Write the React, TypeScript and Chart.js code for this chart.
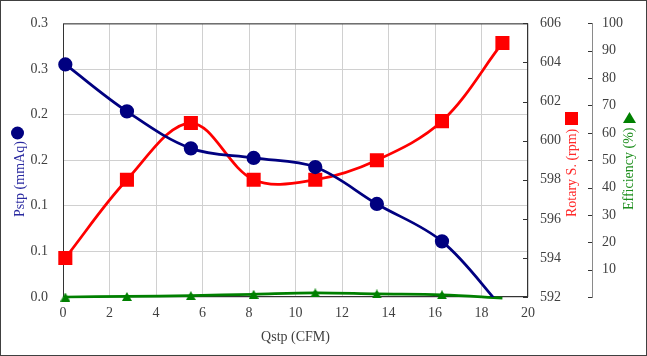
import { useEffect, useRef } from "react";
import { Chart, registerables } from "chart.js";

Chart.register(...registerables);

// ---- data ----
const qstp = [0.1, 2.75, 5.5, 8.2, 10.85, 13.5, 16.3, 18.9];
const pstp = [0.255, 0.2035, 0.163, 0.1525, 0.1425, 0.102, 0.061, -0.012];
const rotarySpeed = [594, 598, 600.9, 598, 598, 599, 601, 605];
const efficiency = [0, 0.2, 0.5, 1.0, 1.5, 1.1, 0.8, -0.4];
const pstpTickLabels = ["0.0", "0.1", "0.1", "0.2", "0.2", "0.3", "0.3"];
const pstpMarkerShown = [1, 1, 1, 1, 1, 1, 1, 0];
const effMarkerShown = [1, 1, 1, 1, 1, 1, 1, 0];

const FONT = '"Liberation Serif", "Times New Roman", serif';
const TICK_COLOR = "#404040";
const GRID_COLOR = "#d0d0d0";
const BLUE = "#000080";
const RED = "#ff0000";
const GREEN = "#008000";

function makeTriangle(w: number, h: number, color: string) {
  const c = document.createElement("canvas");
  c.width = w;
  c.height = h;
  const g = c.getContext("2d")!;
  g.fillStyle = color;
  g.beginPath();
  g.moveTo(0, h);
  g.lineTo(w / 2, 0);
  g.lineTo(w, h);
  g.closePath();
  g.fill();
  return c;
}

const decor = {
  id: "decor",
  beforeDatasetsDraw(chart: any) {
    const { ctx, chartArea: a, scales } = chart;
    ctx.save();
    // plot border
    ctx.strokeStyle = "#333333";
    ctx.lineWidth = 1;
    ctx.strokeRect(a.left + 0.5, a.top + 0.5, a.right - a.left - 1, a.bottom - a.top - 1);
    // rpm ticks (inward)
    const y1 = scales.y1;
    ctx.beginPath();
    y1.ticks.forEach((t: any) => {
      const py = Math.round(y1.getPixelForValue(t.value)) + 0.5;
      ctx.moveTo(a.right - 5, py);
      ctx.lineTo(a.right, py);
    });
    ctx.stroke();
    // efficiency ticks (to the left of its axis line)
    const y2 = scales.y2;
    const lx = Math.round(y2.left);
    ctx.strokeStyle = "#333333";
    ctx.beginPath();
    y2.ticks.forEach((t: any) => {
      const py = Math.round(y2.getPixelForValue(t.value)) + 0.5;
      ctx.moveTo(lx - 4, py);
      ctx.lineTo(lx, py);
    });
    ctx.stroke();
    ctx.restore();
  },
  afterDraw(chart: any) {
    const { ctx, width, height } = chart;
    ctx.save();
    // outer frame
    ctx.strokeStyle = "#404040";
    ctx.lineWidth = 1;
    ctx.strokeRect(0.5, 0.5, width - 1, height - 1);

    const vTitle = (text: string, cx: number, startY: number, color: string) => {
      ctx.save();
      ctx.translate(cx, startY);
      ctx.rotate(-Math.PI / 2);
      ctx.font = `14px ${FONT}`;
      ctx.fillStyle = color;
      ctx.textAlign = "left";
      ctx.textBaseline = "middle";
      ctx.fillText(text, 0, 0);
      ctx.restore();
    };
    vTitle("Pstp (mmAq)", 20, 217, "#2a2aa0");
    vTitle("Rotary S. (rpm)", 572, 217, "#ff2a2a");
    vTitle("Efficiency (%)", 629, 210, "#1f8f1f");

    // markers beside titles
    ctx.fillStyle = BLUE;
    ctx.beginPath();
    ctx.arc(17.5, 133, 6.5, 0, Math.PI * 2);
    ctx.fill();
    ctx.fillStyle = RED;
    ctx.fillRect(565, 112, 13, 13);
    ctx.fillStyle = GREEN;
    ctx.beginPath();
    ctx.moveTo(623, 123);
    ctx.lineTo(629.5, 112);
    ctx.lineTo(636, 123);
    ctx.closePath();
    ctx.fill();
    ctx.restore();
  },
};

export default function App() {
  const ref = useRef<HTMLCanvasElement | null>(null);

  useEffect(() => {
    document.body.style.margin = "0";
    const canvas = ref.current;
    if (!canvas) return;
    const tri = makeTriangle(10, 9, GREEN);
    const tickFont = { family: FONT, size: 14 };

    const chart = new Chart(canvas, {
      type: "line",
      data: {
        datasets: [
          {
            label: "Pstp",
            data: qstp.map((q, i) => ({ x: q, y: pstp[i] })),
            yAxisID: "y",
            borderColor: BLUE,
            backgroundColor: BLUE,
            borderWidth: 2.75,
            pointStyle: "circle",
            pointRadius: pstpMarkerShown.map((s) => (s ? 5.75 : 0)),
            tension: 0.35,
            fill: false,
            clip: { left: false, right: false, top: false, bottom: 0 } as any,
            order: 1,
          },
          {
            label: "Rotary S.",
            data: qstp.map((q, i) => ({ x: q, y: rotarySpeed[i] })),
            yAxisID: "y1",
            borderColor: RED,
            backgroundColor: RED,
            borderWidth: 2.75,
            pointStyle: "rect",
            pointRadius: 8,
            tension: 0.35,
            fill: false,
            clip: false as any,
            order: 2,
          },
          {
            label: "Efficiency",
            data: qstp.map((q, i) => ({ x: q, y: efficiency[i] })),
            yAxisID: "y2",
            borderColor: GREEN,
            backgroundColor: GREEN,
            borderWidth: 2.75,
            pointStyle: tri as any,
            pointRadius: effMarkerShown.map((s) => (s ? 5 : 0)),
            tension: 0.35,
            fill: false,
            clip: false as any,
            order: 3,
          },
        ],
      },
      options: {
        animation: false,
        responsive: false,
        maintainAspectRatio: false,
        layout: { padding: { top: 18, left: 0, right: 0, bottom: 0 } },
        plugins: {
          legend: { display: false },
          tooltip: { enabled: false },
        },
        scales: {
          x: {
            type: "linear",
            position: "bottom",
            min: 0,
            max: 20,
            ticks: { stepSize: 2, font: tickFont, color: TICK_COLOR, padding: 8, maxRotation: 0 },
            grid: { color: GRID_COLOR, drawTicks: false },
            border: { display: false },
            title: {
              display: true,
              text: "Qstp (CFM)",
              font: tickFont,
              color: TICK_COLOR,
              padding: { top: 0, bottom: 10 },
            },
            afterFit: (s: any) => {
              s.height = 59;
            },
          },
          y: {
            type: "linear",
            position: "left",
            min: 0,
            max: 0.3,
            ticks: {
              stepSize: 0.05,
              font: tickFont,
              color: TICK_COLOR,
              padding: 15,
              callback: (_v: any, i: number) => pstpTickLabels[i],
            },
            grid: { color: GRID_COLOR, drawTicks: false },
            border: { display: false },
            afterFit: (s: any) => {
              s.width = 63;
            },
          },
          y1: {
            type: "linear",
            position: "right",
            min: 592,
            max: 606,
            ticks: { stepSize: 2, font: tickFont, color: TICK_COLOR, padding: 12 },
            grid: { drawOnChartArea: false, drawTicks: false },
            border: { display: false },
            afterFit: (s: any) => {
              s.width = 64;
            },
          },
          y2: {
            type: "linear",
            position: "right",
            min: 0,
            max: 100,
            ticks: {
              stepSize: 10,
              font: tickFont,
              color: TICK_COLOR,
              padding: 10,
              callback: (v: any) => (v === 0 ? "" : String(v)),
            },
            grid: { drawOnChartArea: false, drawTicks: false },
            border: { display: true, color: "#8a8a8a", width: 1 },
            afterFit: (s: any) => {
              s.width = 55;
            },
          },
        },
      } as any,
      plugins: [decor],
    });
    return () => chart.destroy();
  }, []);

  return (
    <canvas
      ref={ref}
      width={647}
      height={356}
      style={{ display: "block", width: 647, height: 356 }}
    />
  );
}
